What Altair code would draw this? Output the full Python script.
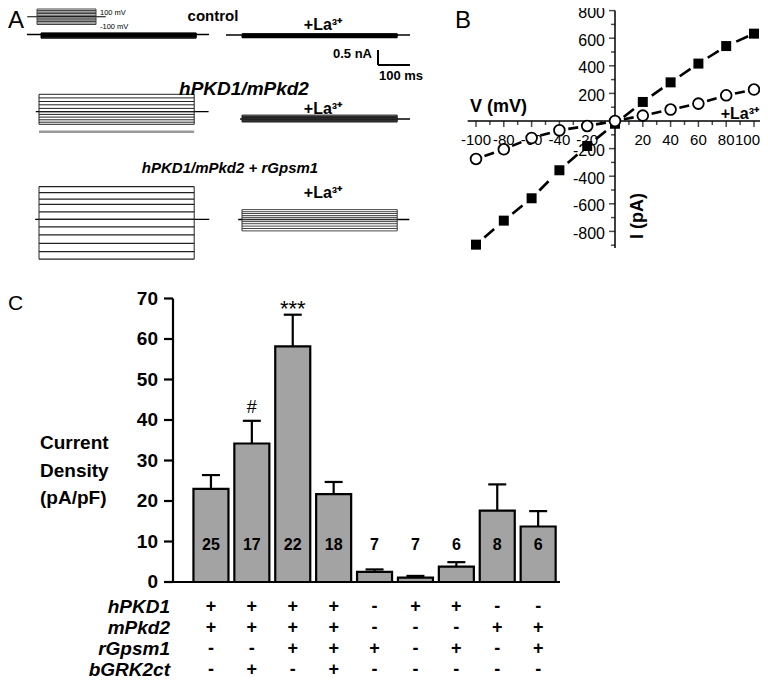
import altair as alt
import pandas as pd

FONT = "Liberation Sans"


def P(v):
    # page pixel -> chart pixel (page has an 8px margin)
    return v - 8


# ---------------- Panel A: current traces (nA), sweeps +100 .. -100 mV ----------------
SWEEP_MV = [100, 80, 60, 40, 20, 0, -20, -40, -60, -80, -100]
A_CTRL = [0.05, 0.04, 0.03, 0.02, 0.01, 0.0, -0.02, -0.04, -0.07, -0.09, -0.12]
A_CTRL_LA = [0.04, 0.03, 0.02, 0.01, 0.005, 0.0, -0.01, -0.03, -0.05, -0.07, -0.09]
A_PKD = [0.58, 0.46, 0.34, 0.23, 0.11, 0.0, -0.09, -0.18, -0.27, -0.35, -0.42]
A_PKD_LA = [0.13, 0.10, 0.08, 0.05, 0.03, 0.0, -0.02, -0.04, -0.06, -0.08, -0.10]
A_GPSM = [1.09, 0.89, 0.67, 0.50, 0.25, 0.0, -0.25, -0.52, -0.80, -1.08, -1.33]
A_GPSM_LA = [0.33, 0.26, 0.20, 0.13, 0.07, 0.0, -0.07, -0.14, -0.22, -0.30, -0.38]
A_PKD_GRAY_NA = [-0.67]
PULSE_MS = 485
SCALEBAR_MS = [100]
SCALEBAR_NA = [0.5]

# ---------------- Panel B: I-V relation ----------------
V_MV = [-100, -80, -60, -40, -20, 0, 20, 40, 60, 80, 100]
I_CTRL_PA = [-896, -722, -560, -357, -181, -20, 138, 280, 416, 543, 633]
I_LA_PA = [-275, -205, -123, -67, -36, 0, 39, 83, 126, 186, 228]
B_XTICKS = [-100, -80, -60, -40, -20, 20, 40, 60, 80, 100]
B_YTICKS = [800, 600, 400, 200, -200, -400, -600, -800]

# ---------------- Panel C: current density ----------------
CONDS = ["1", "2", "3", "4", "5", "6", "7", "8", "9"]
DENSITY = [23.0, 34.2, 58.2, 21.7, 2.5, 1.1, 3.8, 17.6, 13.7]
SEM = [3.4, 5.6, 7.8, 3.0, 0.6, 0.4, 1.1, 6.5, 3.8]
N_CELLS = [25, 17, 22, 18, 7, 7, 6, 8, 6]
SIGNIF = ["", "#", "***", "", "", "", "", "", ""]
C_YTICKS = [0, 10, 20, 30, 40, 50, 60, 70]
GENES = ["hPKD1", "mPkd2", "rGpsm1", "bGRK2ct"]
HPKD1 = ["+", "+", "+", "+", "-", "+", "+", "-", "-"]
MPKD2 = ["+", "+", "+", "+", "-", "-", "-", "+", "+"]
RGPSM1 = ["-", "-", "+", "+", "+", "-", "+", "-", "+"]
BGRK2CT = ["-", "+", "-", "+", "-", "-", "-", "-", "-"]

layers = []


def txt(s, x, y, size, bold=False, italic=False, align="left", baseline="alphabetic", angle=0):
    return alt.Chart(pd.DataFrame({"s": [s]})).mark_text(
        font=FONT, fontSize=size, fontWeight="bold" if bold else "normal",
        fontStyle="italic" if italic else "normal", align=align, baseline=baseline,
        angle=angle, color="black",
    ).encode(text="s:N", x=alt.value(P(x)), y=alt.value(P(y)))


def lin(d0, d1, r0, r1):
    return alt.Scale(domain=[d0, d1], range=[P(r0), P(r1)], nice=False, zero=False)


# ---------- Panel A ----------
def trace(levels, x0, y0, pre, post, width, color="black"):
    xs = lin(0, 100, x0, x0 + 32)       # 100 ms = 32 px
    ys = lin(0, 0.5, y0, y0 - 15)       # 0.5 nA = 15 px
    n = len(levels)
    sw = pd.DataFrame({"t0": [0] * n, "t1": [PULSE_MS] * n, "i": levels})
    bl = pd.DataFrame({"t0": [-pre], "t1": [PULSE_MS + post], "i": [0.0]})
    ed = pd.DataFrame({"t": [0, PULSE_MS], "lo": [min(levels)] * 2, "hi": [max(levels)] * 2})
    return [
        alt.Chart(bl).mark_rule(color="black", strokeWidth=1.3).encode(
            x=alt.X("t0:Q", scale=xs, axis=None), x2="t1:Q",
            y=alt.Y("i:Q", scale=ys, axis=None)),
        alt.Chart(sw).mark_rule(color=color, strokeWidth=width).encode(
            x=alt.X("t0:Q", scale=xs, axis=None), x2="t1:Q",
            y=alt.Y("i:Q", scale=ys, axis=None)),
        alt.Chart(ed).mark_rule(color=color, strokeWidth=1).encode(
            x=alt.X("t:Q", scale=xs, axis=None),
            y=alt.Y("lo:Q", scale=ys, axis=None), y2="hi:Q"),
    ]


layers += trace(A_CTRL, 41, 34.5, 44, 40, 1.2)
layers += trace(A_CTRL_LA, 242, 35, 50, 40, 1.2)
layers += trace(A_PKD, 39, 111.7, 10, 45, 1.0, "#222")
layers += trace(A_PKD_LA, 242, 119, 6, 40, 1.0, "#222")
layers += trace(A_GPSM, 39, 219.3, 12, 47, 1.3, "#222")
layers += trace(A_GPSM_LA, 242, 219.5, 12, 38, 0.9, "#333")

# gray sweep under hPKD1/mPkd2 control trace
gxs, gys = lin(0, 100, 39, 71), lin(0, 0.5, 111.7, 96.7)
layers.append(
    alt.Chart(pd.DataFrame({"t0": [0], "t1": [PULSE_MS], "i": A_PKD_GRAY_NA}))
    .mark_rule(color="#9a9a9a", strokeWidth=2.5)
    .encode(x=alt.X("t0:Q", scale=gxs, axis=None), x2="t1:Q", y=alt.Y("i:Q", scale=gys, axis=None))
)

# voltage protocol inset
vxs = lin(0, PULSE_MS, 37, 96)
vys = lin(-100, 100, 24.5, 9)
prot = pd.DataFrame({"t0": [0] * len(SWEEP_MV), "t1": [PULSE_MS] * len(SWEEP_MV), "v": SWEEP_MV})
layers.append(
    alt.Chart(prot).mark_rule(color="#444", strokeWidth=1.1).encode(
        x=alt.X("t0:Q", scale=vxs, axis=None), x2="t1:Q", y=alt.Y("v:Q", scale=vys, axis=None))
)
layers.append(
    alt.Chart(pd.DataFrame({"t0": [-80], "t1": [565], "v": [0]})).mark_rule(color="black", strokeWidth=1).encode(
        x=alt.X("t0:Q", scale=vxs, axis=None), x2="t1:Q", y=alt.Y("v:Q", scale=vys, axis=None))
)
layers.append(
    alt.Chart(pd.DataFrame({"t": [0, PULSE_MS], "lo": [-100, -100], "hi": [100, 100]}))
    .mark_rule(color="#444", strokeWidth=1).encode(
        x=alt.X("t:Q", scale=vxs, axis=None), y=alt.Y("lo:Q", scale=vys, axis=None), y2="hi:Q")
)
layers.append(txt("100 mV", 100, 15, 7.5))
layers.append(txt("-100 mV", 100, 29, 7.5))

# scale bar
sbx, sby = lin(0, 100, 378, 410), lin(0, 0.5, 65, 50)
layers.append(
    alt.Chart(pd.DataFrame({"t0": [0], "t1": SCALEBAR_MS, "i": [0]})).mark_rule(color="black", strokeWidth=2)
    .encode(x=alt.X("t0:Q", scale=sbx, axis=None), x2="t1:Q", y=alt.Y("i:Q", scale=sby, axis=None))
)
layers.append(
    alt.Chart(pd.DataFrame({"t": [0], "i0": [0], "i1": SCALEBAR_NA})).mark_rule(color="black", strokeWidth=2)
    .encode(x=alt.X("t:Q", scale=sbx, axis=None), y=alt.Y("i0:Q", scale=sby, axis=None), y2="i1:Q")
)
layers.append(txt("0.5 nA", 372, 58, 13, bold=True, align="right"))
layers.append(txt("100 ms", 401, 80, 13, bold=True, align="center"))

layers.append(txt("A", 8, 28, 24))
layers.append(txt("control", 213, 21, 15, bold=True, align="center"))
layers.append(txt("+La³⁺", 323, 30, 16, bold=True, align="center"))
layers.append(txt("hPKD1/mPkd2", 244, 95, 19, bold=True, italic=True, align="center"))
layers.append(txt("+La³⁺", 323, 114, 16, bold=True, align="center"))
layers.append(txt("hPKD1/mPkd2 + rGpsm1", 230, 173, 15, bold=True, italic=True, align="center"))
layers.append(txt("+La³⁺", 323, 198, 16, bold=True, align="center"))

# ---------- Panel B ----------
bxs = lin(-100, 100, 476, 754)
bys = lin(-800, 800, 231.4, 10.6)


def bX(f):
    return alt.X(f, scale=bxs, axis=None)


def bY(f):
    return alt.Y(f, scale=bys, axis=None)


layers.append(
    alt.Chart(pd.DataFrame({"x0": [-106], "x1": [106.5], "y": [0]})).mark_rule(color="black", strokeWidth=1.5)
    .encode(x=bX("x0:Q"), x2="x1:Q", y=bY("y:Q"))
)
layers.append(
    alt.Chart(pd.DataFrame({"x": [0], "y0": [-920], "y1": [800]})).mark_rule(color="black", strokeWidth=1.5)
    .encode(x=bX("x:Q"), y=bY("y0:Q"), y2="y1:Q")
)
xmaj = pd.DataFrame({"v": B_XTICKS})
xmin = pd.DataFrame({"v": [v for v in range(-100, 101, 10) if v % 20 != 0]})
ymaj = pd.DataFrame({"v": B_YTICKS})
ymin = pd.DataFrame({"v": [v for v in range(-900, 800, 100) if v % 200 != 0]})
layers.append(alt.Chart(xmaj).mark_tick(orient="vertical", size=6, thickness=1.5, yOffset=3, color="black")
              .encode(x=bX("v:Q"), y=alt.Y("z:Q", scale=bys, axis=None)).transform_calculate(z="0"))
layers.append(alt.Chart(xmin).mark_tick(orient="vertical", size=4, thickness=1.5, yOffset=2, color="black")
              .encode(x=bX("v:Q"), y=alt.Y("z:Q", scale=bys, axis=None)).transform_calculate(z="0"))
layers.append(alt.Chart(ymaj).mark_tick(orient="horizontal", size=6, thickness=1.5, xOffset=-3, color="black")
              .encode(y=bY("v:Q"), x=alt.X("z:Q", scale=bxs, axis=None)).transform_calculate(z="0"))
layers.append(alt.Chart(ymin).mark_tick(orient="horizontal", size=4, thickness=1.5, xOffset=-2, color="black")
              .encode(y=bY("v:Q"), x=alt.X("z:Q", scale=bxs, axis=None)).transform_calculate(z="0"))
xlab_mid = xmaj[xmaj.v < 100]
xlab_end = xmaj[xmaj.v == 100]
layers.append(alt.Chart(xlab_mid).mark_text(font=FONT, fontSize=15, baseline="middle", align="center", dy=19)
              .encode(x=bX("v:Q"), y=alt.Y("z:Q", scale=bys, axis=None), text="v:N").transform_calculate(z="0"))
layers.append(alt.Chart(xlab_end).mark_text(font=FONT, fontSize=15, baseline="middle", align="right", dx=6, dy=19)
              .encode(x=bX("v:Q"), y=alt.Y("z:Q", scale=bys, axis=None), text="v:N").transform_calculate(z="0"))
layers.append(alt.Chart(ymaj).mark_text(font=FONT, fontSize=16, baseline="middle", align="right", dx=-10, dy=2.5)
              .encode(y=bY("v:Q"), x=alt.X("z:Q", scale=bxs, axis=None), text="v:N").transform_calculate(z="0"))


def segments(xs, ys):
    return pd.DataFrame({"x0": xs[:-1], "x1": xs[1:], "y0": ys[:-1], "y1": ys[1:]})


layers.append(alt.Chart(segments(V_MV, I_CTRL_PA)).mark_rule(color="black", strokeWidth=2.6, strokeDash=[0, 11, 13, 300])
              .encode(x=bX("x0:Q"), x2="x1:Q", y=bY("y0:Q"), y2="y1:Q"))
layers.append(alt.Chart(segments(V_MV, I_LA_PA)).mark_rule(color="black", strokeWidth=2.6, strokeDash=[0, 9, 10, 300])
              .encode(x=bX("x0:Q"), x2="x1:Q", y=bY("y0:Q"), y2="y1:Q"))
layers.append(alt.Chart(pd.DataFrame({"v": V_MV, "i": I_CTRL_PA})).mark_square(size=100, color="black", opacity=1)
              .encode(x=bX("v:Q"), y=bY("i:Q")))
layers.append(alt.Chart(pd.DataFrame({"v": V_MV, "i": I_LA_PA})).mark_circle(size=115, fill="white", stroke="black", strokeWidth=1.8, opacity=1)
              .encode(x=bX("v:Q"), y=bY("i:Q")))

layers.append(txt("B", 455, 28, 24))
layers.append(txt("V (mV)", 470, 112, 18, bold=True))
layers.append(txt("I (pA)", 638, 216, 18, bold=True, align="center", baseline="middle", angle=270))
layers.append(txt("+La³⁺", 759, 119, 16, bold=True, align="right"))

# ---------- Panel C ----------
cxs = alt.Scale(type="band", domain=CONDS, range=[P(190.5), P(558.6)], paddingInner=0.144, paddingOuter=0.072)
cys = lin(0, 70, 582, 298.5)
cdf = pd.DataFrame({"c": CONDS, "m": DENSITY, "top": [m + s for m, s in zip(DENSITY, SEM)],
                    "n": [str(v) for v in N_CELLS], "sig": SIGNIF})


def cX():
    return alt.X("c:N", scale=cxs, axis=None)


layers.append(alt.Chart(cdf).mark_rule(color="black", strokeWidth=2.2)
              .encode(x=cX(), y=alt.Y("m:Q", scale=cys, axis=None), y2="top:Q"))
layers.append(alt.Chart(cdf).mark_tick(orient="horizontal", size=18, thickness=2.2, color="black", opacity=1)
              .encode(x=cX(), y=alt.Y("top:Q", scale=cys, axis=None)))
layers.append(alt.Chart(cdf).mark_bar(fill="#a3a3a3", stroke="black", strokeWidth=2.2, opacity=1)
              .encode(x=cX(), y=alt.Y("m:Q", scale=cys, axis=None), y2=alt.Y2(datum=0)))
layers.append(alt.Chart(cdf).mark_text(font=FONT, fontSize=16, fontWeight="bold", baseline="alphabetic", dy=8)
              .encode(x=cX(), y=alt.Y(datum=10, scale=cys, axis=None), text="n:N"))
layers.append(alt.Chart(cdf[cdf.sig == "#"]).mark_text(font=FONT, fontSize=18, baseline="alphabetic", dy=-8)
              .encode(x=cX(), y=alt.Y("top:Q", scale=cys, axis=None), text="sig:N"))
layers.append(alt.Chart(cdf[cdf.sig == "***"]).mark_text(font=FONT, fontSize=22, baseline="alphabetic", dy=1)
              .encode(x=cX(), y=alt.Y("top:Q", scale=cys, axis=None), text="sig:N"))

# axes for C
layers.append(alt.Chart(pd.DataFrame({"y0": [0], "y1": [70]})).mark_rule(color="black", strokeWidth=2.2)
              .encode(x=alt.value(P(173)), y=alt.Y("y0:Q", scale=cys, axis=None), y2="y1:Q"))
layers.append(alt.Chart(pd.DataFrame({"y": [0]})).mark_rule(color="black", strokeWidth=2.2)
              .encode(x=alt.value(P(165)), x2=alt.value(P(560)), y=alt.Y("y:Q", scale=cys, axis=None)))
ct = pd.DataFrame({"v": C_YTICKS})
layers.append(alt.Chart(ct).mark_tick(orient="horizontal", size=9, thickness=2.2, color="black", opacity=1)
              .encode(x=alt.value(P(168.5)), y=alt.Y("v:Q", scale=cys, axis=None)))
layers.append(alt.Chart(ct).mark_text(font=FONT, fontSize=19, fontWeight="bold", align="right", baseline="middle")
              .encode(x=alt.value(P(158)), y=alt.Y("v:Q", scale=cys, axis=None), text="v:N"))
layers.append(alt.Chart(pd.DataFrame({"s": ["Current\nDensity\n(pA/pF)"]}))
              .mark_text(font=FONT, fontSize=19, fontWeight="bold", align="left", baseline="middle",
                         lineBreak="\n", lineHeight=27.5)
              .encode(x=alt.value(P(40)), y=alt.value(P(443)), text="s:N"))
layers.append(txt("C", 8, 310, 21))

# genotype table
tys = alt.Scale(type="point", domain=GENES, range=[P(607), P(669.5)], padding=0)
rows = []
for g, vals in zip(GENES, [HPKD1, MPKD2, RGPSM1, BGRK2CT]):
    for c, v in zip(CONDS, vals):
        rows.append({"g": g, "c": c, "v": v})
tab = pd.DataFrame(rows)
layers.append(alt.Chart(tab).mark_text(font=FONT, fontSize=18, fontWeight="bold", baseline="middle")
              .encode(x=cX(), y=alt.Y("g:N", scale=tys, axis=None), text="v:N"))
layers.append(alt.Chart(pd.DataFrame({"g": GENES})).mark_text(font=FONT, fontSize=19, fontWeight="bold",
                                                              fontStyle="italic", align="right", baseline="middle")
              .encode(x=alt.value(P(170)), y=alt.Y("g:N", scale=tys, axis=None), text="g:N"))

chart = (
    alt.layer(*layers)
    .resolve_scale(x="independent", y="independent")
    .properties(width=752, height=669, autosize=alt.AutoSizeParams(type="none"), padding=0)
    .configure_view(stroke=None)
)

chart.save("out.html", embed_options={"renderer": "svg", "actions": False})
